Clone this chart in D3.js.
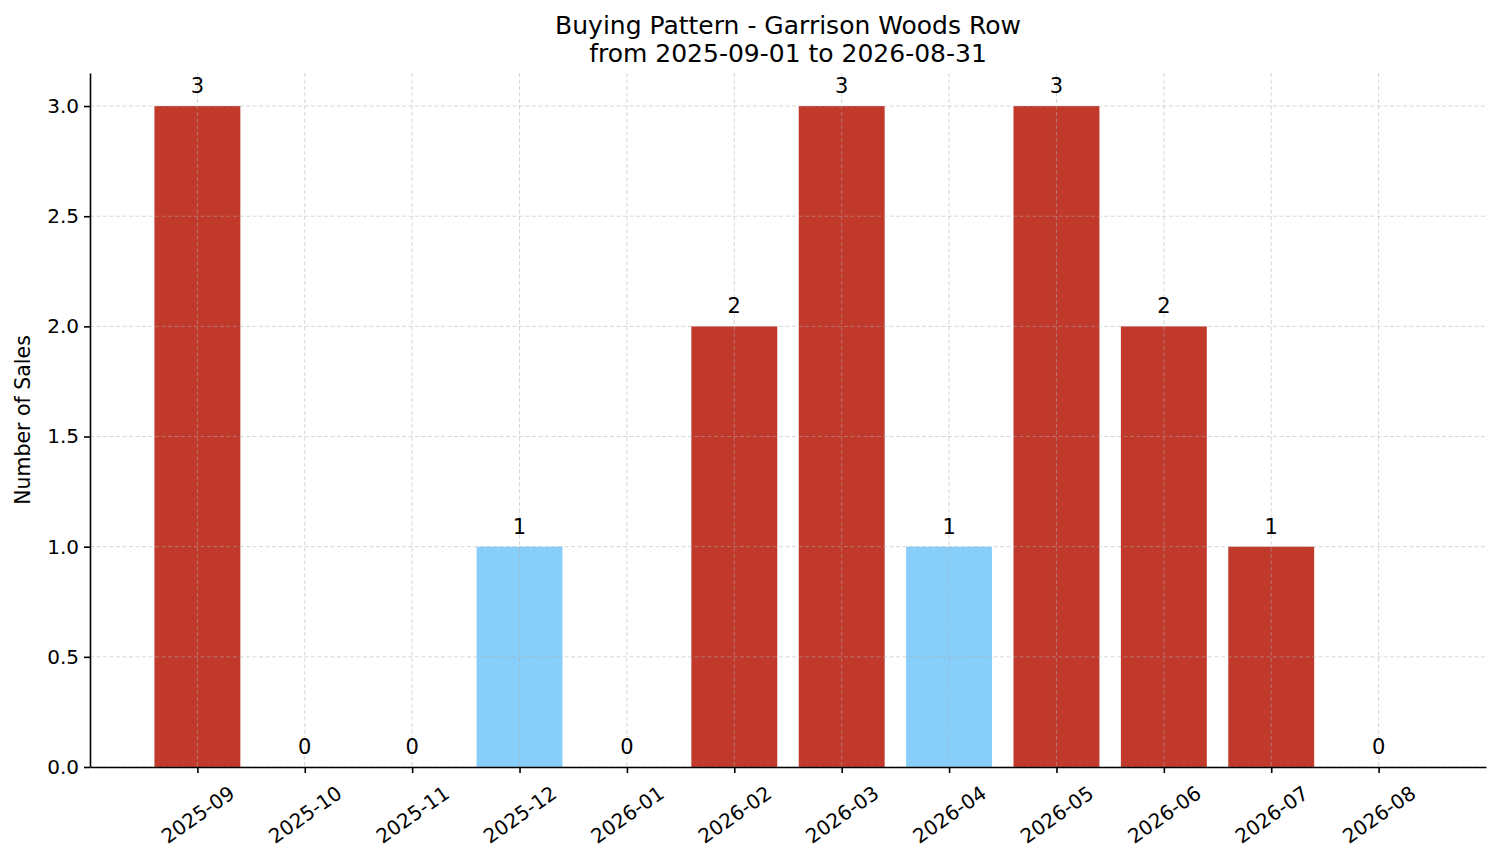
<!DOCTYPE html>
<html>
<head>
<meta charset="utf-8">
<script src="https://cdn.jsdelivr.net/npm/d3@7"></script>
<style>
  body { margin: 0; background: #fff; }
  text { font-family: "DejaVu Sans", sans-serif; fill: #000; }
</style>
</head>
<body>
<script>
var months = ["2025-09", "2025-10", "2025-11", "2025-12", "2026-01", "2026-02",
  "2026-03", "2026-04", "2026-05", "2026-06", "2026-07", "2026-08"];
var sales = [3, 0, 0, 1, 0, 2, 3, 1, 3, 2, 1, 0];
// months drawn in light blue instead of red
var blueMonths = ["2025-12", "2026-04"];
var yTicks = [0, 0.5, 1.0, 1.5, 2.0, 2.5, 3.0];
var titleLines = ["Buying Pattern - Garrison Woods Row", "from 2025-09-01 to 2026-08-31"];

var W = 1501, H = 863;
var margin = { top: 73, right: 15, bottom: 96, left: 90 },
  width = W - margin.left - margin.right,
  height = H - margin.top - margin.bottom;

var tickFont = 20;

var svg = d3.select("body").append("svg")
  .attr("width", W)
  .attr("height", H);

var canvas = svg.append("g")
  .attr("transform", `translate(${margin.left},${margin.top})`);

// bar positions like matplotlib: index -1 .. 12
var x = d3.scaleLinear().domain([-1, months.length]).range([0, width]);
var y = d3.scaleLinear().domain([0, 3.15]).range([height, 0]);
var barW = (x(1) - x(0)) * 0.8;

function barColor(m) {
  return blueMonths.indexOf(m) >= 0 ? "#87cefa" : "#c0392b";
}

canvas.selectAll(".bar")
  .data(months)
  .enter()
  .append("rect")
  .attr("class", "bar")
  .attr("x", function (d, i) { return x(i) - barW / 2; })
  .attr("y", function (d, i) { return y(sales[i]); })
  .attr("width", barW)
  .attr("height", function (d, i) { return y(0) - y(sales[i]); })
  .attr("fill", barColor);

// dashed grid on top of bars
var grid = canvas.append("g").attr("class", "grid");
grid.selectAll(".gy")
  .data(yTicks)
  .enter()
  .append("line")
  .attr("x1", 0).attr("x2", width)
  .attr("y1", function (d) { return y(d); })
  .attr("y2", function (d) { return y(d); });
grid.selectAll(".gx")
  .data(months)
  .enter()
  .append("line")
  .attr("x1", function (d, i) { return x(i); })
  .attr("x2", function (d, i) { return x(i); })
  .attr("y1", 0).attr("y2", height);
grid.selectAll("line")
  .attr("stroke", "#b0b0b0")
  .attr("stroke-opacity", 0.5)
  .attr("stroke-width", 1)
  .attr("stroke-dasharray", "4,2.5");

// value labels
canvas.selectAll(".val")
  .data(months)
  .enter()
  .append("text")
  .attr("class", "val")
  .attr("x", function (d, i) { return x(i); })
  .attr("y", function (d, i) { return y(sales[i]) - 13; })
  .attr("text-anchor", "middle")
  .style("font-size", "21px")
  .text(function (d, i) { return sales[i]; });

// y axis
var yAxis = canvas.append("g")
  .call(d3.axisLeft(y).tickValues(yTicks).tickFormat(d3.format(".1f"))
    .tickSize(6).tickSizeOuter(0).tickPadding(5));
yAxis.selectAll("text").style("font-size", tickFont + "px");

// x axis, labels rotated 35deg and centred under the tick
var xAxis = canvas.append("g")
  .attr("transform", `translate(0,${height})`)
  .call(d3.axisBottom(x).tickValues(d3.range(months.length))
    .tickFormat(function (i) { return months[i]; }).tickSize(6).tickSizeOuter(0));
xAxis.selectAll("text")
  .style("font-size", tickFont + "px")
  .each(function () {
    var t = d3.select(this);
    var w = this.getComputedTextLength();
    var a = 35 * Math.PI / 180;
    var h = tickFont * 1.05;
    var boxH = w * Math.sin(a) + h * Math.cos(a);
    var cy = 6 + 9 + boxH / 2;
    t.attr("y", 0).attr("dy", null)
      .attr("text-anchor", "middle")
      .attr("dominant-baseline", "central")
      .attr("transform", `translate(0,${cy}) rotate(-35)`);
  });

canvas.selectAll(".domain, .tick line")
  .attr("stroke", "#000")
  .attr("stroke-width", 1.6);

// y label
svg.append("text")
  .attr("transform", `translate(30,${margin.top + height / 2}) rotate(-90)`)
  .attr("text-anchor", "middle")
  .style("font-size", "20.5px")
  .text("Number of Sales");

// title
svg.selectAll(".title")
  .data(titleLines)
  .enter()
  .append("text")
  .attr("class", "title")
  .attr("x", margin.left + width / 2)
  .attr("y", function (d, i) { return 34 + i * 28; })
  .attr("text-anchor", "middle")
  .style("font-size", "25px")
  .text(function (d) { return d; });
</script>
</body>
</html>
